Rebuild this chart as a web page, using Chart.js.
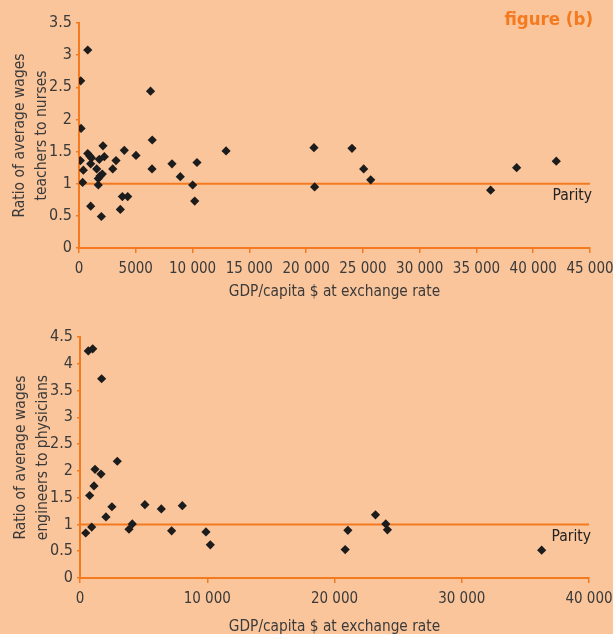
<!DOCTYPE html>
<html>
<head>
<meta charset="utf-8">
<script src="https://cdn.jsdelivr.net/npm/chart.js@4/dist/chart.umd.min.js"></script>
<style>
  html, body { margin: 0; padding: 0; background: #FAC59B; }
  #wrap { position: relative; width: 613px; height: 634px; overflow: hidden; background: #FAC59B; }
  canvas { position: absolute; left: 0; }
  #figTitle { position: absolute; right: 20px; top: 8px; color: #F47A20;
    font: bold 18.5px 'Liberation Sans Narrow', 'DejaVu Sans Condensed', sans-serif; }
</style>
</head>
<body>
<div id="wrap">
  <canvas id="chartTop" width="613" height="310" style="top:0"></canvas>
  <canvas id="chartBottom" width="613" height="334" style="top:310px"></canvas>
  <div id="figTitle">figure (b)</div>
</div>
<script>
// teachers vs nurses
const teachersGdp = [770, 150, 180, 6300, 6450, 6430, 12950, 120, 380, 320, 770, 950, 1100, 1030, 1560, 1790, 2110, 2230,
  1700, 1850, 2050, 1700, 1030, 1970, 2970, 3260, 3990, 3820, 4290, 3640, 5020, 8190, 8920, 10010, 10190, 10390,
  20690, 20750, 24040, 25070, 25690, 36250, 38540, 42030];
const teachersRatio = [3.08, 2.60, 1.86, 2.44, 1.68, 1.23, 1.51, 1.36, 1.21, 1.02, 1.47, 1.43, 1.40, 1.31, 1.23, 1.38, 1.59, 1.42,
  1.08, 1.12, 1.15, 0.98, 0.65, 0.49, 1.23, 1.36, 1.52, 0.80, 0.80, 0.60, 1.44, 1.31, 1.11, 0.98, 0.73, 1.33,
  1.56, 0.95, 1.55, 1.23, 1.06, 0.90, 1.25, 1.35];

// engineers vs physicians
const engGdp = [650, 1000, 1700, 2930, 1180, 1650, 1100, 760, 2510, 2040, 920, 450, 3850, 4110, 5100, 6390, 7200, 8040,
  9900, 10240, 20840, 21050, 23220, 24030, 24160, 36280];
const engRatio = [4.24, 4.28, 3.72, 2.18, 2.03, 1.94, 1.72, 1.54, 1.33, 1.14, 0.95, 0.84, 0.91, 1.01, 1.37, 1.29, 0.88, 1.35,
  0.86, 0.62, 0.53, 0.89, 1.18, 1.01, 0.90, 0.52];

const parity = 1;
const topXTicks = ['0', '5000', '10 000', '15 000', '20 000', '25 000', '30 000', '35 000', '40 000', '45 000'];
const bottomXTicks = ['0', '10 000', '20 000', '30 000', '40 000'];
const topYTicks = ['0', '0.5', '1', '1.5', '2', '2.5', '3', '3.5'];
const bottomYTicks = ['0', '0.5', '1', '1.5', '2', '2.5', '3', '3.5', '4', '4.5'];

const ORANGE = '#F47A20';
const TEXT = '#3a3a3a';
const FONT = "'Liberation Sans Narrow', 'DejaVu Sans Condensed', sans-serif";

// "Parity" text just under the parity line, right-aligned
const parityLabel = {
    id: 'parityLabel',
    afterDatasetsDraw(chart) {
        const c = chart.ctx;
        const y = chart.scales.y.getPixelForValue(parity);
        c.save();
        c.font = '15.5px ' + FONT;
        c.fillStyle = '#222';
        c.textAlign = 'right';
        c.textBaseline = 'top';
        c.fillText('Parity', chart.chartArea.right + 2, y + 5);
        c.restore();
    }
};

function makeChart(id, xs, ys, xMax, xStep, yMax, xLabels, yLabels, yTitle, pad, xH) {
    return new Chart(document.getElementById(id), {
        type: 'scatter',
        data: {
            datasets: [{
                type: 'line',
                data: [{ x: 0, y: parity }, { x: xMax, y: parity }],
                borderColor: ORANGE,
                borderWidth: 2,
                pointRadius: 0,
                order: 2
            }, {
                data: xs.map((x, i) => ({ x: x, y: ys[i] })),
                pointStyle: 'rectRot',
                pointRadius: 4.6,
                backgroundColor: '#1c1c1c',
                borderColor: '#1c1c1c',
                borderWidth: 0,
                order: 1
            }]
        },
        options: {
            responsive: false,
            animation: false,
            layout: { padding: pad },
            scales: {
                x: {
                    type: 'linear',
                    min: 0,
                    max: xMax,
                    afterFit: s => { s.height = xH; s.paddingLeft = 0; s.paddingRight = 0; },
                    ticks: {
                        stepSize: xStep,
                        color: TEXT,
                        padding: 7,
                        maxRotation: 0,
                        font: { size: 15, family: FONT },
                        callback: (v, i) => xLabels[i]
                    },
                    grid: { drawOnChartArea: false, color: ORANGE, tickLength: 5, lineWidth: 1.5 },
                    border: { color: ORANGE, width: 2 },
                    title: {
                        display: true,
                        text: 'GDP/capita $ at exchange rate',
                        color: TEXT,
                        padding: { top: 0, bottom: 0 },
                        font: { size: 15.3, family: FONT }
                    }
                },
                y: {
                    min: 0,
                    max: yMax,
                    afterFit: s => { s.width = 79; s.paddingTop = 0; s.paddingBottom = 0; },
                    ticks: {
                        stepSize: 0.5,
                        color: TEXT,
                        padding: 4,
                        font: { size: 16, family: FONT },
                        callback: (v, i) => yLabels[i]
                    },
                    grid: { drawOnChartArea: false, color: ORANGE, tickLength: 3, lineWidth: 1.5 },
                    border: { color: ORANGE, width: 2 },
                    title: {
                        display: true,
                        text: yTitle,
                        color: TEXT,
                        padding: { top: 8, bottom: 0 },
                        font: { size: 15.5, family: FONT, lineHeight: 1.48 }
                    }
                }
            },
            plugins: {
                legend: { display: false },
                tooltip: { enabled: false }
            }
        },
        plugins: [parityLabel]
    });
}

makeChart('chartTop', teachersGdp, teachersRatio, 45000, 5000, 3.5, topXTicks, topYTicks,
    ['Ratio of average wages', 'teachers to nurses'],
    { left: 0, right: 23, top: 23, bottom: 9 }, 53);

makeChart('chartBottom', engGdp, engRatio, 40000, 10000, 4.5, bottomXTicks, bottomYTicks,
    ['Ratio of average wages', 'engineers to physicians'],
    { left: 1, right: 24, top: 27, bottom: 8 }, 58);
</script>
</body>
</html>
